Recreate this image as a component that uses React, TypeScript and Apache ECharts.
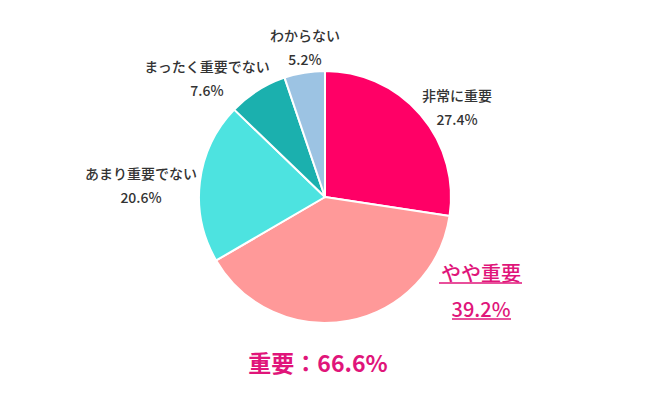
import React, { useEffect, useRef } from "react";
import * as echarts from "echarts";

const categories = ["非常に重要", "やや重要", "あまり重要でない", "まったく重要でない", "わからない"];
const values = [27.4, 39.2, 20.6, 7.6, 5.2];
const colors = ["#FF0066", "#FF9999", "#4DE3E0", "#1BB0AE", "#9CC3E3"];
const totalLabel = "重要";
const importantIdx = [0, 1];

const labelPos = [
  [457, 107],
  [481, 290],
  [141, 185],
  [207, 78],
  [305, 47],
];

export default function App() {
  const ref = useRef<HTMLDivElement>(null);
  useEffect(() => {
    const chart = echarts.init(ref.current!, null, { renderer: "svg" });
    const font = '"Noto Sans CJK JP", "Noto Sans", sans-serif';
    const accent = "#E0157A";
    const total = importantIdx.reduce((s, i) => s + values[i], 0).toFixed(1);
    chart.setOption({
      animation: false,
      backgroundColor: "#fff",
      series: [
        {
          type: "pie",
          center: [325, 197],
          radius: 126,
          startAngle: 90,
          clockwise: true,
          itemStyle: { borderColor: "#fff", borderWidth: 2 },
          labelLine: { show: false },
          label: {
            show: true,
            position: "outside",
            formatter: "{b}\n{c}%",
            color: "#333",
            fontSize: 14,
            fontWeight: 500,
            fontFamily: font,
            lineHeight: 24,
            align: "center",
          },
          labelLayout: (p: any) => ({
            x: labelPos[p.dataIndex][0],
            y: labelPos[p.dataIndex][1],
            align: "center",
            verticalAlign: "middle",
          }),
          emphasis: { disabled: true },
          data: categories.map((c, i) => ({
            name: c,
            value: values[i],
            itemStyle: { color: colors[i] },
            label:
              i === 1
                ? { color: accent, fontSize: 20, lineHeight: 36, fontWeight: 500 }
                : undefined,
          })),
        },
      ],
      graphic: [
        {
          type: "text",
          x: 318,
          y: 362,
          style: {
            text: `${totalLabel}：${total}%`,
            fill: accent,
            font: `bold 23px ${font}`,
            textAlign: "center",
            textVerticalAlign: "middle",
          },
        },
        {
          type: "line",
          shape: { x1: 439, y1: 283, x2: 522, y2: 283 },
          style: { stroke: accent, lineWidth: 1.5 },
        },
        {
          type: "line",
          shape: { x1: 452, y1: 319, x2: 511, y2: 319 },
          style: { stroke: accent, lineWidth: 1.5 },
        },
      ],
    });
    return () => chart.dispose();
  }, []);
  return (
    <div
      ref={ref}
      style={{ position: "fixed", left: 0, top: 0, width: 650, height: 393 }}
    />
  );
}
